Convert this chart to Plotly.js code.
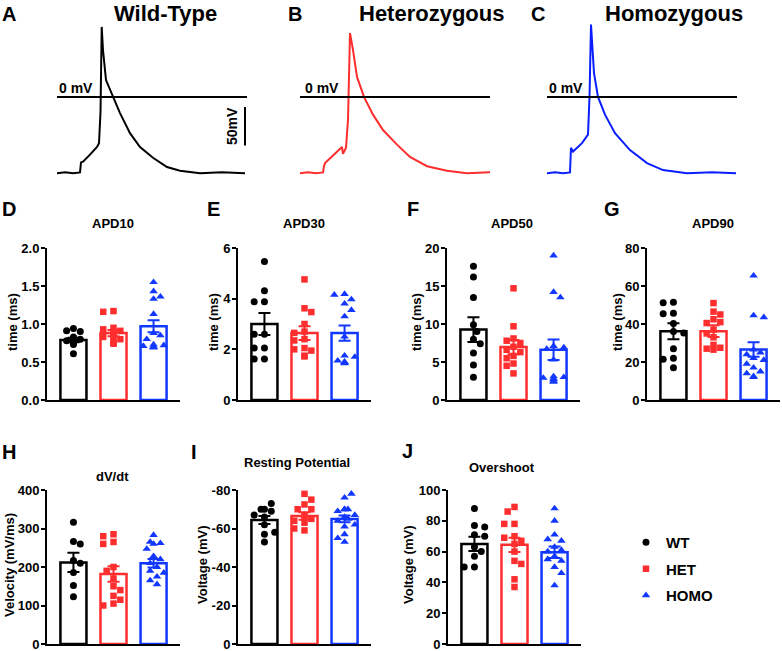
<!DOCTYPE html>
<html><head><meta charset="utf-8">
<script src="https://cdn.plot.ly/plotly-3.0.1.min.js"></script>
<style>html,body{margin:0;padding:0;background:#fff}#chart{width:782px;height:651px}</style>
</head><body><div id="chart"></div>
<script>
// ---------- DATA ----------
const groups = ['WT', 'HET', 'HOMO'];

// Action potential traces (time in ms, membrane potential in mV)
const wtTime = [0, 8, 16, 23, 24, 26, 33, 40, 42, 43.5, 44.7, 46, 49, 56, 63, 73, 83, 96, 110, 123, 143, 165, 188];
const wtVm   = [-99, -98, -99, -98, -85, -84, -75, -65, -60, -20, 91, 61, 22, 0, -21, -47, -65, -79, -91, -96, -99, -98, -99];
const hetTime = [0, 8, 16, 23, 24, 25, 33, 42, 43, 46, 48, 50, 53, 57, 64, 73, 83, 97, 110, 127, 147, 167, 190];
const hetVm   = [-99, -98, -99, -98, -90, -86, -76, -65, -74, -66, -30, 83, 61, 26, 0, -23, -43, -62, -78, -90, -96, -99, -98];
const homoTime = [0, 8, 16, 23, 24, 26, 35, 41, 42.5, 44, 47, 51, 58, 68, 83, 100, 116, 140, 165, 189];
const homoVm   = [-99, -98, -99, -98, -66, -71, -60, -49, 0, 94, 31, 0, -23, -47, -69, -86, -95, -99, -98, -99];

// APD10 (ms)
const apd10WT   = [0.94, 0.91, 0.90, 0.83, 0.80, 0.78, 0.76, 0.75, 0.73, 0.61];
const apd10HET  = [1.17, 1.16, 0.95, 0.93, 0.91, 0.90, 0.88, 0.85, 0.83, 0.80, 0.78, 0.76, 0.74];
const apd10HOMO = [1.55, 1.43, 1.36, 1.33, 1.13, 0.88, 0.85, 0.80, 0.73, 0.72, 0.71, 0.70, 0.69, 0.70];
const apd10Mean = [0.79, 0.88, 0.97];
const apd10Sem  = [0.03, 0.04, 0.08];
// APD30 (ms)
const apd30WT   = [5.47, 4.31, 3.88, 3.88, 2.60, 2.60, 2.05, 2.05, 1.62, 1.62];
const apd30HET  = [4.76, 3.62, 3.47, 3.00, 2.70, 2.65, 2.40, 2.35, 2.05, 2.00, 1.95, 1.75, 1.72];
const apd30HOMO = [4.18, 4.15, 3.97, 3.80, 3.55, 3.30, 2.50, 1.75, 1.70, 1.55, 1.50, 1.48, 1.45, 1.50];
const apd30Mean = [3.0, 2.64, 2.64];
const apd30Sem  = [0.43, 0.27, 0.30];
// APD50 (ms)
const apd50WT   = [17.6, 16.2, 13.5, 9.9, 9.0, 8.0, 7.4, 6.2, 4.6, 3.0];
const apd50HET  = [14.7, 9.7, 8.1, 7.8, 7.5, 7.0, 6.6, 6.3, 5.8, 5.5, 4.8, 4.5, 3.5];
const apd50HOMO = [19.0, 14.2, 13.5, 7.1, 6.9, 6.7, 5.3, 3.1, 3.0, 2.9, 2.8, 2.7, 2.5, 2.4];
const apd50Mean = [9.26, 6.96, 6.6];
const apd50Sem  = [1.62, 0.95, 1.35];
// APD90 (ms)
const apd90WT   = [51.5, 51.2, 45.6, 45.4, 40.2, 36.0, 35.2, 27.0, 22.0, 21.5, 17.0];
const apd90HET  = [51.0, 46.5, 45.0, 42.5, 41.0, 40.5, 37.0, 35.0, 33.0, 29.0, 27.5, 27.0, 26.5];
const apd90HOMO = [65.4, 44.5, 43.5, 26.5, 25.0, 24.0, 22.0, 21.0, 19.0, 17.0, 15.0, 14.0, 12.5, 12.0];
const apd90Mean = [36.2, 36.2, 26.6];
const apd90Sem  = [4.2, 3.1, 3.8];
// dV/dt (mV/ms)
const dvdtWT   = [316, 266, 260, 217, 210, 186, 152, 123];
const dvdtHET  = [285, 280, 265, 260, 200, 190, 170, 150, 140, 125, 115, 105, 100];
const dvdtHOMO = [283, 265, 262, 260, 247, 228, 220, 210, 200, 190, 185, 175, 165, 155];
const dvdtMean = [212, 182, 210];
const dvdtSem  = [25, 20, 11];
// Resting potential (mV)
const restWT   = [-73, -70, -70, -69, -67, -66, -62, -58, -57, -53];
const restHET  = [-78, -75, -72.5, -70, -70, -67, -66, -65, -64, -63, -60, -59];
const restHOMO = [-78, -76, -70, -70, -70, -69, -67, -66, -65, -64, -62, -61, -57, -55, -53];
const restMean = [-64.4, -66.5, -65];
const restSem  = [2.1, 2.0, 1.8];
// Overshoot (mV)
const overWT   = [88, 77, 76, 71, 70, 63, 60, 57, 50, 50];
const overHET  = [89, 86, 78, 78, 70, 69, 67, 65, 60, 54, 52, 42, 37];
const overHOMO = [88, 80, 71, 68, 67, 63, 61, 60, 57, 55, 54, 50, 46, 38];
const overMean = [65, 64.4, 59.6];
const overSem  = [4.6, 4.6, 3.7];

// ---------- STYLE / LAYOUT ----------
const W = 782, H = 651;
const FONT = 'Liberation Sans, Arial, Helvetica, sans-serif';
const colors = ['#000000', '#ff2e2e', '#1238ff'];
const symbols = ['circle', 'square', 'triangle-up'];
const msizes = [7, 6.5, 7.5];
const X = p => p / W;
const Y = p => 1 - p / H;

const traces = [];
const annotations = [];
const shapes = [];
const layout = {
  width: W, height: H, margin: {l: 0, r: 0, t: 0, b: 0},
  paper_bgcolor: '#fff', plot_bgcolor: 'rgba(0,0,0,0)',
  font: {family: FONT, color: '#000'},
  barmode: 'overlay', showlegend: true, hovermode: false,
  legend: {x: X(626), y: Y(526), xanchor: 'left', yanchor: 'top',
           font: {family: FONT, size: 15, weight: 'bold', color: '#000'},
           tracegroupgap: 4, bgcolor: 'rgba(0,0,0,0)', itemwidth: 30},
  annotations, shapes
};

function addAnn(text, x, y, size, extra) {
  annotations.push(Object.assign({text, x: X(x), y: Y(y), xref: 'paper', yref: 'paper',
    showarrow: false, xanchor: 'center', yanchor: 'middle',
    font: {family: FONT, size, weight: 'bold', color: '#000'}}, extra || {}));
}

// ---- Top AP traces ----
const apPanels = [
  {t: wtTime, v: wtVm, c: colors[0], dom: [57, 247], letter: 'A', lpos: [9, 14], title: 'Wild-Type', tpos: [165, 14], zl: [76, 88]},
  {t: hetTime, v: hetVm, c: colors[1], dom: [300, 490], letter: 'B', lpos: [295, 14], title: 'Heterozygous', tpos: [432, 14], zl: [322, 88]},
  {t: homoTime, v: homoVm, c: '#0a1eff', dom: [547, 737], letter: 'C', lpos: [538, 14], title: 'Homozygous', tpos: [674, 14], zl: [566, 88]}
];
apPanels.forEach((p, i) => {
  const n = i + 1, sx = n === 1 ? '' : n;
  traces.push({type: 'scatter', mode: 'lines', x: p.t, y: p.v, xaxis: 'x' + sx, yaxis: 'y' + sx,
    line: {color: p.c, width: 2}, showlegend: false});
  layout['xaxis' + sx] = {domain: [X(p.dom[0]), X(p.dom[1])], range: [0, 190], visible: false, fixedrange: true};
  layout['yaxis' + sx] = {domain: [Y(181.6), Y(20)], range: [-110, 100], visible: false, fixedrange: true};
  shapes.push({type: 'line', xref: 'x' + sx, yref: 'y' + sx, x0: 0, x1: 190, y0: 0, y1: 0,
    line: {color: '#000', width: 2}});
  addAnn(p.letter, p.lpos[0], p.lpos[1], 20);
  addAnn(p.title, p.tpos[0], p.tpos[1], 22);
  addAnn('0 mV', p.zl[0], p.zl[1], 14);
});
// 50 mV scale bar in panel A
shapes.push({type: 'line', xref: 'x', yref: 'y', x0: 188, x1: 188, y0: -13, y1: -63, line: {color: '#000', width: 2}});
addAnn('50mV', 232, 126, 14, {textangle: -90});

// ---- Bar panels ----
const panels = [
  {letter: 'D', title: 'APD10', yt: 'time (ms)', d: [apd10WT, apd10HET, apd10HOMO], m: apd10Mean, s: apd10Sem, r: [0, 2], dt: 0.5, dec: 1,
   dom: [47, 180, 248, 400], tp: [113, 223], ytp: [12, 322], lp: [9, 209]},
  {letter: 'E', title: 'APD30', yt: 'time (ms)', d: [apd30WT, apd30HET, apd30HOMO], m: apd30Mean, s: apd30Sem, r: [0, 6], dt: 2, dec: 0,
   dom: [238, 371, 248, 400], tp: [304, 223], ytp: [213, 322], lp: [213, 209]},
  {letter: 'F', title: 'APD50', yt: 'time (ms)', d: [apd50WT, apd50HET, apd50HOMO], m: apd50Mean, s: apd50Sem, r: [0, 20], dt: 5, dec: 0,
   dom: [447, 580, 248, 400], tp: [512, 223], ytp: [416, 322], lp: [413, 209]},
  {letter: 'G', title: 'APD90', yt: 'time (ms)', d: [apd90WT, apd90HET, apd90HOMO], m: apd90Mean, s: apd90Sem, r: [0, 80], dt: 20, dec: 0,
   dom: [647, 780, 248, 400], tp: [713, 223], ytp: [617, 322], lp: [612, 209]},
  {letter: 'H', title: 'dV/dt', yt: 'Velocity (mV/ms)', d: [dvdtWT, dvdtHET, dvdtHOMO], m: dvdtMean, s: dvdtSem, r: [0, 400], dt: 100, dec: 0,
   dom: [47, 180, 490, 644], tp: [112, 476], ytp: [9, 565], lp: [9, 452]},
  {letter: 'I', title: 'Resting Potential', yt: 'Voltage (mV)', d: [restWT, restHET, restHOMO], m: restMean, s: restSem, r: [0, -80], dt: -20, dec: 0,
   dom: [238, 371, 490, 644], tp: [297, 463], ytp: [202, 565], lp: [194, 452]},
  {letter: 'J', title: 'Overshoot', yt: 'Voltage (mV)', d: [overWT, overHET, overHOMO], m: overMean, s: overSem, r: [0, 100], dt: 20, dec: 0,
   dom: [448, 581, 490, 644], tp: [502, 467], ytp: [408, 565], lp: [407, 451]}
];

const XR = [-0.66, 2.66];

// deterministic beeswarm layout (in category units)
function swarm(vals, pxPerY, pxPerX, diam) {
  const idx = vals.map((v, i) => i).sort((a, b) => vals[b] - vals[a]);
  const placed = [];
  const off = new Array(vals.length).fill(0);
  const step = diam * 0.95;
  idx.forEach((i, k) => {
    const yp = vals[i] * pxPerY;
    const cands = [0];
    const sgn = k % 2 === 0 ? 1 : -1;
    for (let j = 1; j < 12; j++) { cands.push(sgn * j * step * 0.5); cands.push(-sgn * j * step * 0.5); }
    let chosen = 0;
    for (const c of cands) {
      if (Math.abs(c) > 11) continue;
      const ok = placed.every(p => Math.hypot(p[0] - c, p[1] - yp) >= diam);
      if (ok) { chosen = c; break; }
    }
    placed.push([chosen, yp]);
    off[i] = chosen / pxPerX;
  });
  return off;
}

panels.forEach((p, pi) => {
  const n = pi + 4, sx = String(n);
  const [x0, x1, yTop, yBot] = p.dom;
  layout['xaxis' + sx] = {domain: [X(x0), X(x1)], range: XR, anchor: 'y' + sx, showline: true, linewidth: 2,
    linecolor: '#000', showticklabels: false, ticks: '', showgrid: false, zeroline: false, fixedrange: true};
  const tv = [], tt = [];
  const nt = Math.round((p.r[1] - p.r[0]) / p.dt);
  for (let k = 0; k <= nt; k++) { const v = p.r[0] + k * p.dt; tv.push(v); tt.push(v.toFixed(p.dec)); }
  layout['yaxis' + sx] = {domain: [Y(yBot), Y(yTop)], range: p.r, anchor: 'x' + sx, showline: true, linewidth: 2,
    linecolor: '#000', ticks: 'outside', ticklen: 4, tickwidth: 2, tickcolor: '#000', tickvals: tv, ticktext: tt,
    ticklabeloverflow: 'allow', ticklabelstandoff: -1,
    tickfont: {family: FONT, size: 13, weight: 'bold', color: '#000'}, showgrid: false, zeroline: false, fixedrange: true};
  const pxPerX = (x1 - x0) / (XR[1] - XR[0]);
  const pxPerY = (yBot - yTop) / (p.r[1] - p.r[0]);
  groups.forEach((g, gi) => {
    traces.push({type: 'bar', x: [gi], y: [p.m[gi]], width: 0.65, xaxis: 'x' + sx, yaxis: 'y' + sx,
      marker: {color: '#ffffff', line: {color: colors[gi], width: 2.5}}, showlegend: false,
      error_y: {type: 'data', array: [p.s[gi]], visible: true, color: colors[gi], thickness: 2, width: 6}});
  });
  groups.forEach((g, gi) => {
    const vals = p.d[gi];
    const off = swarm(vals, pxPerY, pxPerX, 7.2);
    traces.push({type: 'scatter', mode: 'markers', x: vals.map((v, i) => gi + off[i]), y: vals,
      xaxis: 'x' + sx, yaxis: 'y' + sx, cliponaxis: false, name: g, legendgroup: g, showlegend: pi === 0,
      marker: {symbol: symbols[gi], size: msizes[gi], color: colors[gi], line: {width: 0}}});
  });
  addAnn(p.letter, p.lp[0], p.lp[1], 20);
  addAnn(p.title, p.tp[0], p.tp[1], 13);
  addAnn(p.yt, p.ytp[0], p.ytp[1], 13, {textangle: -90});
});

Plotly.newPlot('chart', traces, layout, {displayModeBar: false, staticPlot: true});
</script>
</body></html>
